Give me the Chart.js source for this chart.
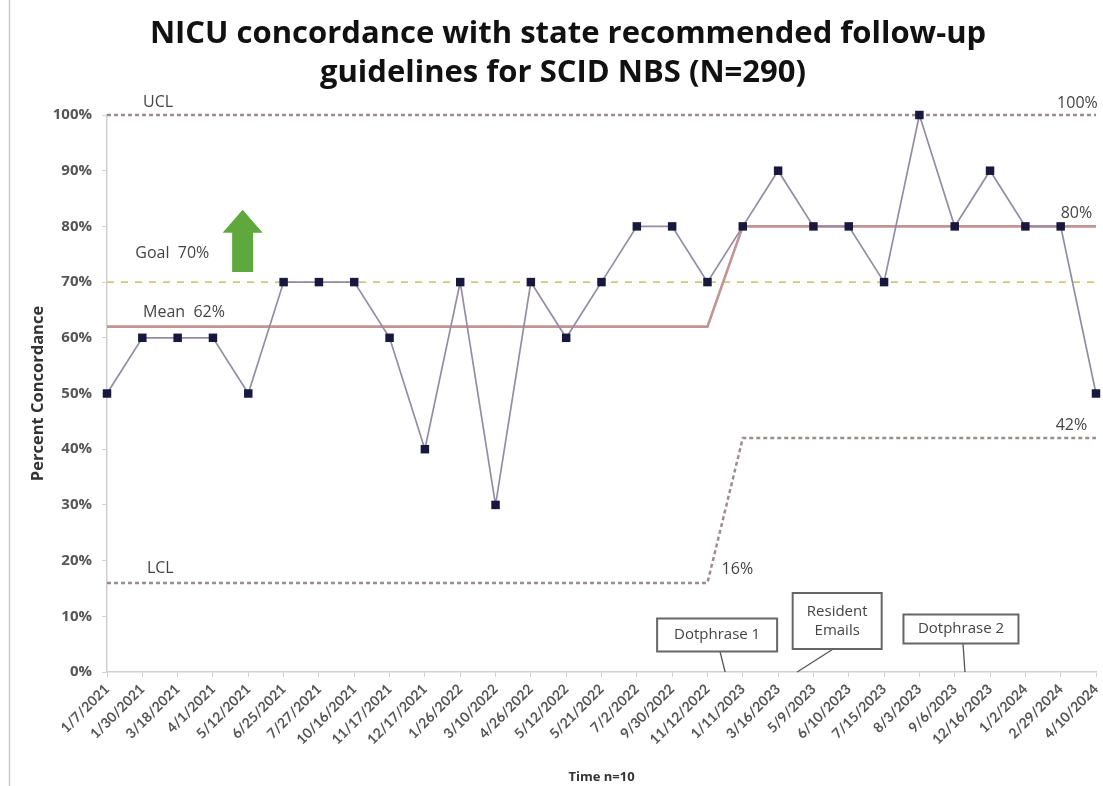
<!DOCTYPE html>
<html>
<head>
<meta charset="utf-8">
<script src="https://cdn.jsdelivr.net/npm/chart.js@4.4.0/dist/chart.umd.min.js"></script>
<style>
  html, body { margin: 0; padding: 0; background: #ffffff; }
  #wrap { width: 1103px; height: 786px; position: relative; }
</style>
</head>
<body>
<div id="wrap"><canvas id="c" width="1103" height="786"></canvas></div>
<script>
// Review dates (one point per block of n=10 infants)
const reviewDates = [
  '1/7/2021', '1/30/2021', '3/18/2021', '4/1/2021', '5/12/2021', '6/25/2021',
  '7/27/2021', '10/16/2021', '11/17/2021', '12/17/2021', '1/26/2022', '3/10/2022',
  '4/26/2022', '5/12/2022', '5/21/2022', '7/2/2022', '9/30/2022', '11/12/2022',
  '1/11/2023', '3/16/2023', '5/9/2023', '6/10/2023', '7/15/2023', '8/3/2023',
  '9/6/2023', '12/16/2023', '1/2/2024', '2/29/2024', '4/10/2024'
];

// Percent concordance per block
const concordance = [
  50, 60, 60, 60, 50, 70, 70, 70, 60, 40, 70, 30, 70, 60, 70, 80, 80, 70,
  80, 90, 80, 80, 70, 100, 80, 90, 80, 80, 50
];

// Control chart centre line and limits (phase shift after 11/12/2022)
const centerLine = [
  62, 62, 62, 62, 62, 62, 62, 62, 62, 62, 62, 62, 62, 62, 62, 62, 62, 62,
  80, 80, 80, 80, 80, 80, 80, 80, 80, 80, 80
];
const upperLimit = [
  100, 100, 100, 100, 100, 100, 100, 100, 100, 100, 100, 100, 100, 100, 100,
  100, 100, 100, 100, 100, 100, 100, 100, 100, 100, 100, 100, 100, 100
];
const lowerLimit = [
  16, 16, 16, 16, 16, 16, 16, 16, 16, 16, 16, 16, 16, 16, 16, 16, 16, 16,
  42, 42, 42, 42, 42, 42, 42, 42, 42, 42, 42
];
const goalLine = [
  70, 70, 70, 70, 70, 70, 70, 70, 70, 70, 70, 70, 70, 70, 70, 70, 70, 70,
  70, 70, 70, 70, 70, 70, 70, 70, 70, 70, 70
];

const titleLines = ['NICU concordance with state recommended follow-up', 'guidelines for SCID NBS (N=290)'];

// Line labels: text, category position, value it sits on
const lineLabels = [
  { text: 'UCL', at: 1.02, value: 100, align: 'left', dy: -13 },
  { text: '100%', at: 28.05, value: 100, align: 'right', dy: -12 },
  { text: 'Goal  70%', at: 0.8, value: 70, align: 'left', dy: -29 },
  { text: 'Mean  62%', at: 1.02, value: 62, align: 'left', dy: -14 },
  { text: '80%', at: 27.0, value: 80, align: 'left', dy: -13 },
  { text: 'LCL', at: 1.13, value: 16, align: 'left', dy: -14 },
  { text: '16%', at: 17.4, value: 16, align: 'left', dy: -13 },
  { text: '42%', at: 27.75, value: 42, align: 'right', dy: -13 }
];

// Intervention call-outs, each pointing at a spot on the time axis
const interventions = [
  { lines: ['Dotphrase 1'], at: 17.5, cx: -8, cy: -37, w: 120, h: 33, fromX: -5, fromY: -20 },
  { lines: ['Resident', 'Emails'], at: 19.54, cx: 40, cy: -51, w: 89, h: 56, fromX: 36, fromY: -23 },
  { lines: ['Dotphrase 2'], at: 24.29, cx: -4, cy: -43, w: 115, h: 29, fromX: -2, fromY: -29 }
];

const FONT = '"Open Sans", Lato, "DejaVu Sans", sans-serif';

const overlay = {
  id: 'overlay',
  afterDraw(chart) {
    const ctx = chart.ctx;
    const xs = chart.scales.x, ys = chart.scales.y;
    const area = chart.chartArea;
    ctx.save();

    // outer frame edge on the left
    ctx.strokeStyle = '#c9c9c9';
    ctx.lineWidth = 1.5;
    ctx.beginPath();
    ctx.moveTo(9.5, 0);
    ctx.lineTo(9.5, 786);
    ctx.stroke();

    // title
    ctx.fillStyle = '#111111';
    ctx.font = 'bold 31px ' + FONT;
    ctx.textAlign = 'center';
    ctx.textBaseline = 'middle';
    ctx.fillText(titleLines[0], 568, 34);
    ctx.fillText(titleLines[1], 563, 73);

    // line labels
    ctx.fillStyle = '#444444';
    ctx.font = '16px ' + FONT;
    ctx.textBaseline = 'middle';
    lineLabels.forEach(l => {
      ctx.textAlign = l.align;
      ctx.fillText(l.text, xs.getPixelForValue(l.at), ys.getPixelForValue(l.value) + l.dy);
    });

    // green "higher is better" arrow
    const ax = xs.getPixelForValue(3.84);
    const tip = ys.getPixelForValue(83);
    const base = ys.getPixelForValue(71.8);
    ctx.fillStyle = '#5fa83d';
    ctx.beginPath();
    ctx.moveTo(ax, tip);
    ctx.lineTo(ax + 20, tip + 23);
    ctx.lineTo(ax + 10.5, tip + 23);
    ctx.lineTo(ax + 10.5, base);
    ctx.lineTo(ax - 10.5, base);
    ctx.lineTo(ax - 10.5, tip + 23);
    ctx.lineTo(ax - 20, tip + 23);
    ctx.closePath();
    ctx.fill();

    // intervention boxes with leader lines
    const axisY = area.bottom;
    interventions.forEach(b => {
      const px = xs.getPixelForValue(b.at);
      ctx.strokeStyle = '#555555';
      ctx.lineWidth = 1.3;
      ctx.beginPath();
      ctx.moveTo(px + b.fromX, axisY + b.fromY);
      ctx.lineTo(px, axisY);
      ctx.stroke();
      const bx = px + b.cx - b.w / 2, by = axisY + b.cy - b.h / 2;
      ctx.fillStyle = '#ffffff';
      ctx.fillRect(bx, by, b.w, b.h);
      ctx.lineWidth = 2;
      ctx.strokeStyle = '#666666';
      ctx.strokeRect(bx, by, b.w, b.h);
      ctx.fillStyle = '#444444';
      ctx.font = '15px ' + FONT;
      ctx.textAlign = 'center';
      ctx.textBaseline = 'middle';
      const lh = 19;
      b.lines.forEach((t, i) => {
        ctx.fillText(t, px + b.cx, axisY + b.cy + (i - (b.lines.length - 1) / 2) * lh);
      });
    });
    ctx.restore();
  }
};

new Chart(document.getElementById('c'), {
  type: 'line',
  data: {
    labels: reviewDates,
    datasets: [
      {
        label: 'Concordance', data: concordance,
        borderColor: '#958ba3', borderWidth: 1.7,
        pointStyle: 'rect', pointRadius: 6, pointBackgroundColor: '#18183f',
        pointBorderColor: '#18183f', pointBorderWidth: 0, tension: 0, order: 0
      },
      {
        label: 'Mean', data: centerLine,
        borderColor: '#c29494', borderWidth: 2.6, pointRadius: 0, tension: 0, order: 1
      },
      {
        label: 'Goal', data: goalLine,
        borderColor: '#cfc77a', borderWidth: 1.6, borderDash: [7, 7], pointRadius: 0, order: 2
      },
      {
        label: 'UCL', data: upperLimit,
        borderColor: '#9b8d8d', borderWidth: 2.5, borderDash: [4, 3], pointRadius: 0, order: 3
      },
      {
        label: 'LCL', data: lowerLimit,
        borderColor: '#9b8d8d', borderWidth: 2.5, borderDash: [4, 3], pointRadius: 0, order: 3
      }
    ]
  },
  options: {
    responsive: false,
    animation: false,
    clip: false,
    layout: { padding: { top: 115, right: 7, bottom: 0, left: 0 } },
    plugins: { legend: { display: false }, tooltip: { enabled: false }, title: { display: false } },
    scales: {
      x: {
        offset: false,
        grid: { drawOnChartArea: false, drawTicks: true, tickLength: 5, color: '#d0d0d0' },
        border: { color: '#d0d0d0', width: 1.5 },
        ticks: {
          autoSkip: false, maxRotation: 45, minRotation: 45, padding: 4,
          color: '#555555', font: { family: 'Lato, "DejaVu Sans", sans-serif', size: 14, weight: 'bold' }
        },
        title: {
          display: true, text: 'Time n=10', color: '#333333', padding: { top: 0, bottom: 1 },
          font: { family: FONT, size: 13, weight: 'bold' }
        },
        afterFit(s) { s.height = 114; s.paddingRight = 0; s.paddingLeft = 0; }
      },
      y: {
        min: 0, max: 100,
        grid: { drawOnChartArea: false, drawTicks: true, tickLength: 5, color: '#d0d0d0' },
        border: { color: '#d0d0d0', width: 1.5 },
        ticks: {
          stepSize: 10, padding: 10, color: '#555555',
          font: { family: FONT, size: 15, weight: 'bold' },
          callback: v => v + '%'
        },
        title: {
          display: true, text: 'Percent Concordance', color: '#333333', padding: { top: 28, bottom: 0 },
          font: { family: FONT, size: 16.5, weight: 'bold' }
        },
        afterFit(s) { s.width = 107; }
      }
    }
  },
  plugins: [overlay]
});
</script>
</body>
</html>
